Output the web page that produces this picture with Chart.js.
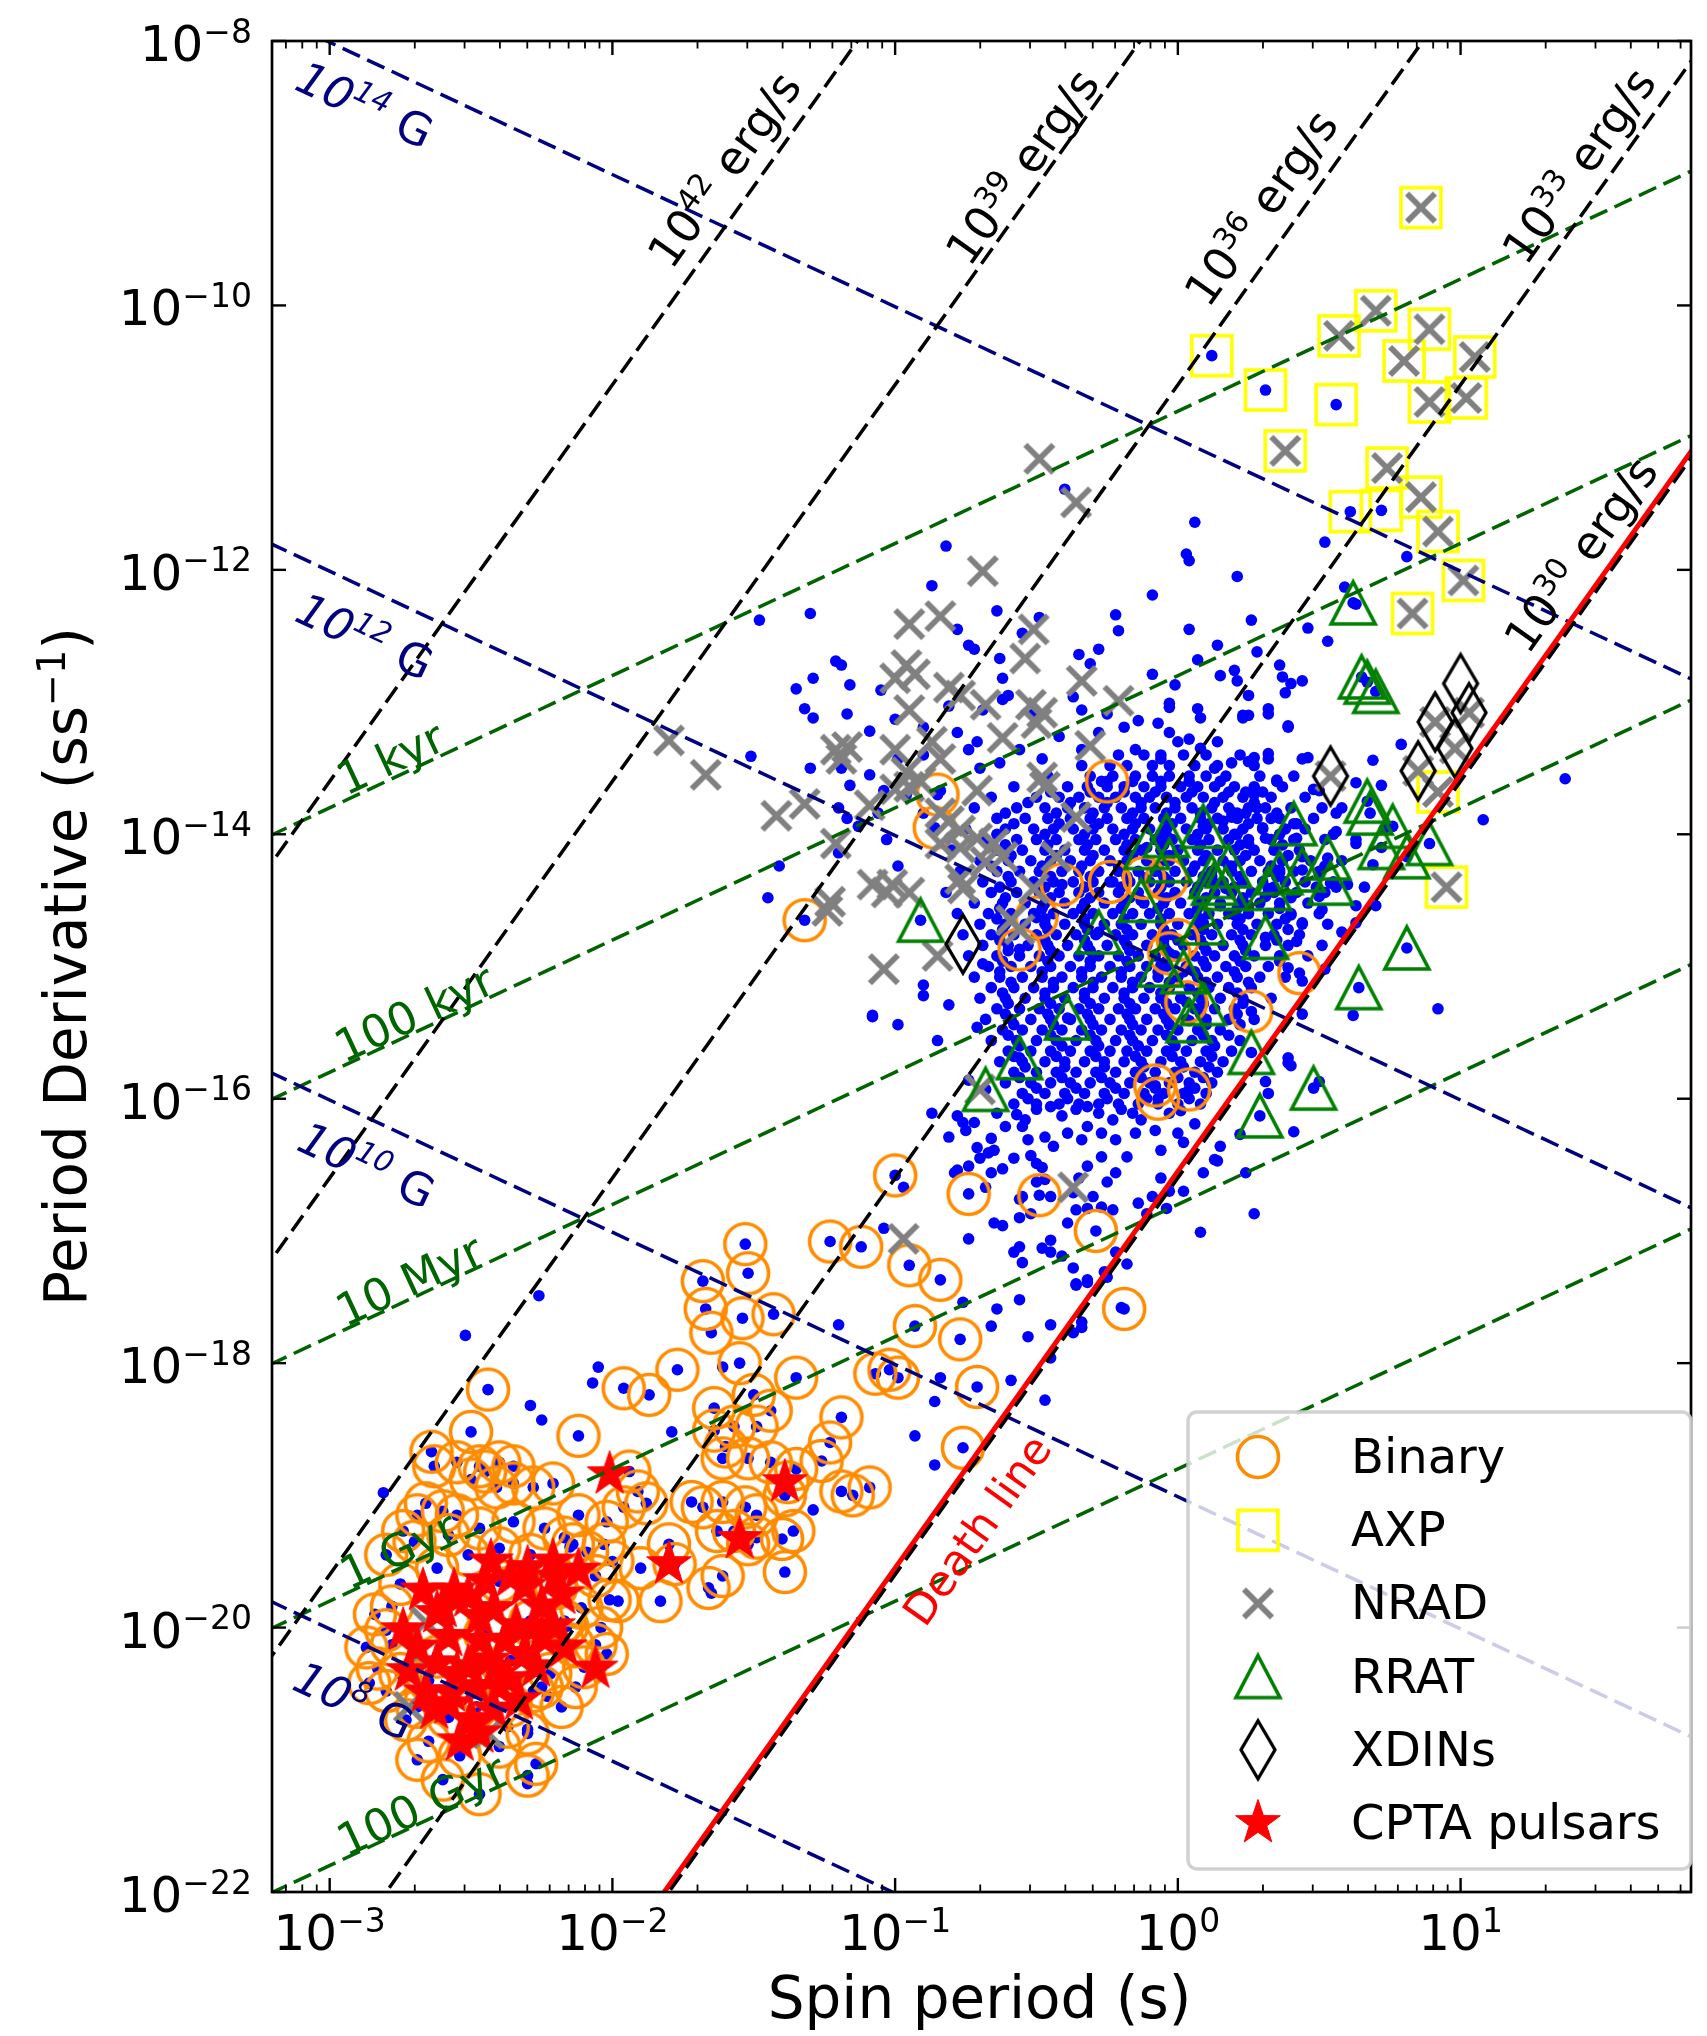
<!DOCTYPE html>
<html>
<head>
<meta charset="utf-8">
<script src="https://cdn.jsdelivr.net/npm/chart.js@4.4.1/dist/chart.umd.min.js"></script>
<style>
  html, body { margin: 0; padding: 0; background: #fff; overflow: hidden; }
  canvas { display: block; }
</style>
</head>
<body>
<canvas id="ppdot" width="1712" height="2036" style="width:1712px;height:2036px"></canvas>
<script>
// all values are log10(P [s]) and log10(Pdot [s/s])

const xTickExps = [-3, -2, -1, 0, 1];
const yTickExps = [-8, -10, -12, -14, -16, -18, -20, -22];

// dense normal-pulsar island, one row per Pdot band: [logPdot, [logP, ...]]
const pulsarRows = [
  [-13.40, [-0.21,-0.12,-0.06,0.02,0.10,0.22]],
  [-13.48, [-0.34,-0.24,-0.18,-0.09,-0.03,0.06,0.14,0.27]],
  [-13.56, [-0.46,-0.31,-0.23,-0.15,-0.09,-0.03,0.04,0.10,0.17,0.29,0.41]],
  [-13.64, [-0.58,-0.39,-0.32,-0.25,-0.19,-0.12,-0.06,0.01,0.07,0.13,0.20,0.27,0.37]],
  [-13.72, [-0.66,-0.50,-0.42,-0.35,-0.28,-0.22,-0.15,-0.10,-0.04,0.03,0.09,0.16,0.23,0.33,0.45]],
  [-13.80, [-0.72,-0.57,-0.47,-0.39,-0.33,-0.26,-0.20,-0.13,-0.08,-0.01,0.05,0.12,0.18,0.25,0.31,0.40]],
  [-13.88, [-0.64,-0.54,-0.46,-0.38,-0.31,-0.25,-0.18,-0.12,-0.05,0.01,0.08,0.14,0.21,0.28,0.36,0.48]],
  [-13.96, [-0.75,-0.61,-0.51,-0.44,-0.37,-0.30,-0.23,-0.16,-0.10,-0.04,0.03,0.10,0.16,0.23,0.30,0.38,0.45]],
  [-14.04, [-0.68,-0.57,-0.50,-0.43,-0.35,-0.29,-0.22,-0.15,-0.08,-0.02,0.05,0.11,0.18,0.25,0.33,0.41,0.52]],
  [-14.12, [-0.80,-0.64,-0.55,-0.47,-0.40,-0.33,-0.26,-0.19,-0.13,-0.06,0.00,0.07,0.14,0.20,0.27,0.34,0.43]],
  [-14.20, [-0.70,-0.60,-0.52,-0.45,-0.38,-0.31,-0.24,-0.18,-0.11,-0.04,0.02,0.09,0.16,0.22,0.29,0.37,0.47,0.58]],
  [-14.28, [-0.77,-0.64,-0.56,-0.49,-0.41,-0.35,-0.28,-0.21,-0.14,-0.08,-0.01,0.05,0.12,0.19,0.26,0.32,0.41,0.50]],
  [-14.36, [-0.69,-0.59,-0.51,-0.44,-0.37,-0.30,-0.23,-0.17,-0.10,-0.03,0.03,0.10,0.16,0.23,0.30,0.38,0.45,0.55]],
  [-14.44, [-0.82,-0.66,-0.57,-0.49,-0.42,-0.35,-0.28,-0.21,-0.14,-0.07,-0.01,0.06,0.13,0.19,0.26,0.34,0.42,0.52]],
  [-14.52, [-0.72,-0.62,-0.54,-0.47,-0.40,-0.33,-0.26,-0.19,-0.12,-0.05,0.01,0.08,0.15,0.22,0.29,0.36,0.46]],
  [-14.60, [-0.78,-0.67,-0.59,-0.51,-0.44,-0.37,-0.30,-0.23,-0.16,-0.10,-0.03,0.04,0.11,0.18,0.25,0.32,0.40,0.50]],
  [-14.68, [-0.70,-0.61,-0.54,-0.47,-0.40,-0.33,-0.26,-0.20,-0.13,-0.06,0.00,0.07,0.14,0.21,0.28,0.35,0.44]],
  [-14.76, [-0.76,-0.66,-0.58,-0.50,-0.43,-0.36,-0.29,-0.22,-0.16,-0.09,-0.02,0.05,0.12,0.19,0.26,0.34,0.43]],
  [-14.84, [-0.69,-0.60,-0.53,-0.46,-0.39,-0.32,-0.25,-0.18,-0.11,-0.05,0.02,0.09,0.16,0.23,0.31,0.39]],
  [-14.92, [-0.74,-0.64,-0.56,-0.49,-0.42,-0.35,-0.28,-0.21,-0.14,-0.08,-0.01,0.06,0.13,0.20,0.27,0.36,0.46]],
  [-15.00, [-0.67,-0.59,-0.52,-0.45,-0.38,-0.31,-0.24,-0.17,-0.11,-0.04,0.03,0.10,0.17,0.24,0.32]],
  [-15.08, [-0.72,-0.63,-0.55,-0.48,-0.41,-0.34,-0.27,-0.20,-0.13,-0.07,0.00,0.07,0.14,0.21,0.29,0.38]],
  [-15.16, [-0.66,-0.58,-0.51,-0.44,-0.37,-0.30,-0.23,-0.16,-0.10,-0.03,0.04,0.11,0.18,0.26]],
  [-15.24, [-0.70,-0.61,-0.54,-0.47,-0.40,-0.33,-0.26,-0.19,-0.12,-0.06,0.01,0.08,0.15,0.23,0.33]],
  [-15.32, [-0.64,-0.56,-0.49,-0.42,-0.35,-0.28,-0.21,-0.15,-0.08,-0.01,0.06,0.13,0.20]],
  [-15.40, [-0.68,-0.59,-0.52,-0.45,-0.38,-0.31,-0.24,-0.17,-0.11,-0.04,0.03,0.10,0.18,0.27]],
  [-15.48, [-0.62,-0.55,-0.48,-0.41,-0.34,-0.27,-0.20,-0.13,-0.07,0.00,0.07,0.15]],
  [-15.56, [-0.66,-0.57,-0.50,-0.43,-0.36,-0.29,-0.22,-0.16,-0.09,-0.02,0.05,0.12,0.22]],
  [-15.64, [-0.60,-0.52,-0.45,-0.38,-0.31,-0.24,-0.18,-0.11,-0.04,0.03,0.10,0.19]],
  [-15.72, [-0.63,-0.55,-0.47,-0.40,-0.33,-0.26,-0.19,-0.13,-0.06,0.01,0.08,0.16]],
  [-15.80, [-0.58,-0.50,-0.43,-0.36,-0.29,-0.22,-0.15,-0.08,-0.01,0.06,0.14]],
  [-15.88, [-0.61,-0.52,-0.45,-0.38,-0.31,-0.24,-0.17,-0.10,-0.03,0.04,0.12]],
  [-15.96, [-0.55,-0.47,-0.40,-0.33,-0.26,-0.19,-0.12,-0.05,0.02,0.10]],
  [-16.04, [-0.58,-0.50,-0.42,-0.35,-0.28,-0.21,-0.14,-0.07,0.00,0.08]]
];

// the thickest part of the island, read between the rows above
const pulsarRowsCore = [
  [-13.60, [-0.27,-0.16,-0.06,0.04,0.15]],
  [-13.68, [-0.45,-0.31,-0.19,-0.08,0.05,0.18,0.30]],
  [-13.76, [-0.53,-0.38,-0.25,-0.13,-0.01,0.13,0.27]],
  [-13.84, [-0.61,-0.43,-0.30,-0.16,-0.04,0.08,0.21,0.35]],
  [-13.92, [-0.58,-0.42,-0.28,-0.15,-0.02,0.11,0.25,0.42]],
  [-14.00, [-0.64,-0.47,-0.33,-0.19,-0.06,0.07,0.21,0.36]],
  [-14.08, [-0.61,-0.46,-0.32,-0.18,-0.05,0.08,0.22,0.37]],
  [-14.16, [-0.59,-0.43,-0.30,-0.16,-0.03,0.10,0.24,0.39]],
  [-14.24, [-0.66,-0.48,-0.34,-0.21,-0.07,0.06,0.19,0.33,0.52]],
  [-14.32, [-0.60,-0.45,-0.31,-0.18,-0.05,0.09,0.22,0.35]],
  [-14.40, [-0.63,-0.47,-0.33,-0.20,-0.06,0.07,0.20,0.34,0.49]],
  [-14.48, [-0.61,-0.45,-0.31,-0.17,-0.04,0.10,0.23,0.40]],
  [-14.56, [-0.63,-0.48,-0.34,-0.20,-0.07,0.07,0.21,0.36]],
  [-14.64, [-0.64,-0.47,-0.33,-0.19,-0.06,0.08,0.22,0.38]],
  [-14.72, [-0.62,-0.46,-0.32,-0.18,-0.05,0.09,0.23,0.39]],
  [-14.80, [-0.63,-0.47,-0.33,-0.19,-0.05,0.08,0.22,0.35]],
  [-14.88, [-0.60,-0.45,-0.31,-0.17,-0.04,0.10,0.24]],
  [-14.96, [-0.62,-0.46,-0.31,-0.18,-0.04,0.09,0.22,0.36]],
  [-15.04, [-0.63,-0.48,-0.34,-0.20,-0.07,0.06,0.20]],
  [-15.12, [-0.59,-0.44,-0.30,-0.16,-0.03,0.10,0.25]],
  [-15.20, [-0.62,-0.47,-0.33,-0.19,-0.06,0.07,0.21]],
  [-15.28, [-0.60,-0.45,-0.31,-0.17,-0.04,0.09,0.23]],
  [-15.36, [-0.61,-0.46,-0.32,-0.18,-0.05,0.08,0.21]],
  [-15.44, [-0.58,-0.44,-0.30,-0.16,-0.03,0.10,0.22]],
  [-15.52, [-0.60,-0.45,-0.31,-0.17,-0.04,0.09,0.18]],
  [-15.60, [-0.56,-0.41,-0.28,-0.14,-0.01,0.13]],
  [-15.68, [-0.58,-0.43,-0.29,-0.15,-0.02,0.12]],
  [-15.76, [-0.54,-0.40,-0.26,-0.12,0.02,0.11]],
  [-15.84, [-0.56,-0.41,-0.27,-0.13,0.00,0.09]],
  [-15.92, [-0.50,-0.36,-0.22,-0.08,0.06]],
  [-16.00, [-0.53,-0.39,-0.25,-0.11,0.04]]
];

// single pulsars around the island, in the tail and among the MSPs
const pulsarScatter = [
  [-0.82,-11.82],[0.06,-11.64],[0.03,-11.88],[0.04,-11.93],[0.21,-12.05],[-1.48,-12.38],[-1.30,-12.33],[-0.87,-12.12],
  [-0.64,-12.31],[-0.78,-12.45],[-0.55,-12.48],[-0.09,-12.19],[-0.22,-12.34],[-0.21,-12.46],[0.04,-12.45],[0.26,-12.38],
  [0.46,-12.44],[0.53,-12.54],[0.63,-12.26],[0.59,-12.13],[0.52,-11.79],[-1.35,-12.90],[-1.29,-12.82],[-1.21,-12.69],
  [-1.19,-12.72],[-1.16,-12.87],[-1.05,-12.91],[-0.74,-12.57],[-0.72,-12.60],[-0.63,-12.67],[-0.62,-12.82],[-0.60,-12.95],
  [-0.49,-12.36],[-0.35,-12.64],[-0.31,-12.71],[-0.28,-12.60],[-0.09,-12.79],[-0.01,-12.87],[-0.03,-13.01],[0.07,-12.68],
  [0.14,-12.57],[0.15,-12.80],[0.20,-12.76],[0.21,-12.84],[0.25,-12.95],[0.28,-12.62],[0.36,-12.72],[0.37,-12.81],
  [0.40,-12.86],[0.38,-12.93],[0.44,-12.84],[0.32,-13.05],[0.39,-13.18],[0.23,-13.12],[0.25,-13.10],[0.07,-13.05],
  [-1.32,-13.05],[-1.29,-13.12],[-1.17,-13.09],[-1.51,-13.41],[-1.30,-13.50],[-1.19,-13.50],[-1.09,-13.22],[-1.00,-13.13],
  [-0.90,-13.19],[-0.81,-13.03],[-0.69,-13.06],[-0.62,-12.98],[-0.51,-13.09],[-0.37,-12.96],[-0.34,-13.06],[-0.25,-13.09],
  [-0.19,-13.19],[-0.14,-13.14],[-0.07,-13.16],[-0.03,-13.23],[0.00,-13.30],[0.04,-13.28],[0.08,-13.35],[0.14,-13.30],
  [0.19,-13.46],[0.25,-13.45],[0.32,-13.43],[0.35,-13.60],[0.27,-13.70],[0.24,-13.84],[0.19,-13.87],[0.30,-13.95],
  [0.81,-11.90],[-0.40,-11.39],
  [-0.03,-13.04],[0.08,-13.12],[0.23,-13.10],[0.32,-13.09],[0.39,-13.19],[0.46,-13.42],[0.56,-13.98],[0.58,-13.80],
  [0.63,-14.07],[0.69,-13.44],[0.72,-13.63],[0.79,-13.32],[0.63,-13.61],[1.37,-13.58],[1.08,-13.89],[0.27,-13.42],
  [0.32,-13.39],[0.35,-13.59],[0.24,-13.68],[0.19,-13.83],[0.16,-13.90],[0.28,-13.80],[0.33,-13.88],[0.20,-14.00],
  [0.25,-14.07],[0.31,-14.03],[0.42,-14.03],[0.48,-13.66],[0.51,-13.80],[0.44,-14.17],[0.50,-14.30],[0.55,-14.00],
  [0.69,-14.23],[0.73,-13.96],[0.66,-14.40],[0.36,-14.27],[0.31,-14.47],[0.25,-14.54],[0.20,-14.61],[0.15,-14.54],
  [0.40,-14.61],[0.44,-14.67],[0.50,-14.47],[0.56,-14.40],[0.63,-14.54],[0.70,-14.54],[0.51,-14.57],[0.42,-14.81],
  [0.39,-15.01],[0.44,-15.11],[0.51,-14.84],[0.58,-14.74],[0.63,-14.67],[0.39,-15.69],[0.40,-15.75],[0.41,-16.25],
  [0.31,-15.87],[0.50,-15.87],[0.27,-16.87],[0.08,-17.01],[-0.18,-17.25],[-0.20,-17.58],[0.92,-15.32],[0.62,-15.37],
  [0.24,-16.56],[0.15,-16.36],[0.09,-16.56],[0.02,-16.70],[-0.04,-16.83],[-0.11,-16.87],[0.13,-16.46],[0.02,-16.33],
  [0.06,-16.19],
  [-1.41,-14.24],[-1.45,-14.48],[-1.08,-15.37],[-0.99,-15.44],[-0.90,-15.14],[-0.90,-15.22],[-0.81,-15.29],[-0.85,-15.56],
  [-0.71,-15.46],[-0.69,-14.98],[-0.99,-14.24],[-1.03,-14.04],[-1.13,-13.94],[-1.06,-13.84],[-1.16,-13.63],[-1.09,-13.55],
  [-1.04,-13.67],[-0.99,-13.43],[-0.90,-13.40],[-0.96,-13.70],[-0.90,-13.84],[-0.84,-13.67],[-0.74,-13.36],[-0.70,-13.50],
  [-0.78,-13.23],[-0.71,-13.30],[-0.63,-13.46],[-0.56,-13.36],[-0.48,-13.43],[-0.42,-13.26],[-0.34,-13.36],[-0.28,-13.23],
  [-0.15,-13.36],[-0.06,-13.43],[0.13,-13.50],[0.44,-13.43],[0.50,-13.67],[0.56,-13.84],[0.63,-14.04],[0.60,-14.38],
  [0.53,-14.68],[0.52,-15.02],[0.44,-15.36],[0.39,-15.73],[0.32,-15.96],[0.22,-16.27],[0.14,-16.47],[-0.74,-15.86],
  [-0.78,-16.13],[-0.71,-16.37],[-0.78,-16.54],[-0.68,-16.67],[-1.20,-13.80],[-1.17,-13.88],[-1.20,-14.14],
  [-0.87,-16.11],[-0.81,-16.29],[-0.76,-16.18],[-0.72,-16.18],[-0.75,-16.24],[-0.79,-16.56],[-0.74,-16.51],[-0.70,-16.45],
  [-0.67,-16.41],[-0.65,-16.39],[-0.66,-16.56],[-0.62,-16.53],[-0.58,-16.45],[-0.66,-16.30],[-0.61,-16.21],[-0.64,-16.11],
  [-0.57,-16.12],[-0.55,-16.21],[-0.53,-16.31],[-0.52,-16.43],[-0.50,-16.49],[-0.48,-16.52],[-0.50,-16.63],[-0.47,-16.61],
  [-0.45,-16.74],[-0.56,-16.76],[-0.55,-16.74],[-0.52,-16.87],[-0.56,-16.90],[-0.65,-16.94],[-0.62,-16.96],[-0.56,-17.12],
  [-0.58,-17.16],[-0.55,-17.24],[-0.45,-17.07],[-0.45,-17.16],[-0.48,-17.13],[-0.41,-17.19],[-0.37,-17.28],[-0.36,-17.40],
  [-0.32,-17.37],[-0.39,-16.94],[-0.36,-16.84],[-0.32,-16.83],[-0.27,-16.82],[-0.23,-16.84],[-0.30,-16.74],[-0.25,-16.63],
  [-0.22,-16.56],[-0.37,-16.71],[-0.35,-16.60],[-0.32,-16.51],[-0.27,-16.44],[-0.18,-16.44],[-0.15,-16.26],[-0.13,-16.16],
  [-0.08,-16.24],[-0.06,-16.39],[-0.03,-16.11],[0.01,-16.09],[0.00,-16.26],[-0.14,-16.79],[-0.09,-16.74],[-0.06,-16.60],
  [-0.03,-16.70],[-0.22,-17.16],[-0.25,-17.35],[-0.32,-17.39],[-0.34,-17.69],[-0.54,-16.16],[-0.50,-16.08],[-0.45,-16.06],
  [-0.41,-16.13],[-0.36,-16.08],[-0.32,-16.06],[-0.28,-16.11],[-0.23,-16.16],[-0.20,-16.08],[-0.16,-16.11],[-0.32,-16.21],
  [-0.27,-16.26],[-0.22,-16.31],[-0.34,-16.31],[-0.39,-16.26],[-0.44,-16.36],[-0.47,-16.29],
  [-0.97,-16.67],[-0.76,-17.54],[-0.74,-17.06],[-0.64,-17.59],[-0.56,-17.52],[-0.66,-17.72],[-0.53,-17.80],[-0.45,-17.71],
  [-0.59,-18.13],[-0.47,-18.28],[-0.37,-17.77],[-0.34,-17.73],[-0.45,-17.96],[-0.36,-17.41],[-0.26,-17.31],[-0.84,-18.11],
  [-2.52,-17.79],[-2.05,-18.03],[-2.07,-18.15],[-2.29,-18.32],[-2.25,-18.43],[-1.79,-18.52],[-2.81,-18.98],[-0.93,-18.55],
  [-0.86,-18.77],[-1.29,-19.11],[-0.86,-18.29],[-1.20,-17.71],[-1.65,-19.74],[-2.15,-19.39],[-2.23,-20.52],[-2.30,-20.77],
  [-2.30,-21.18],[-1.08,-15.38],[-2.26,-17.49],[-1.04,-16.98],[-1.61,-18.03]
];

const binaries = [
  [-0.25,-13.60],[-0.85,-13.70],[-0.86,-13.95],[-1.32,-14.65],[-0.41,-14.38],[-0.24,-14.36],[-0.12,-14.33],[-0.04,-14.34],
  [-0.50,-14.63],[-0.56,-14.87],[0.00,-14.80],[-0.03,-14.90],[0.03,-15.27],[0.26,-15.34],[0.43,-15.05],[-0.08,-15.90],
  [-0.07,-16.00],[0.04,-15.93],[-1.00,-16.58],[-0.74,-16.72],[-0.49,-16.73],[-0.29,-17.00],[-0.19,-17.59],
  [-1.23,-17.08],[-1.12,-17.12],[-0.95,-17.26],[-0.84,-17.37],[-0.93,-17.72],[-0.77,-17.82],[-0.71,-18.18],[-0.76,-18.64],
  [-1.53,-17.10],[-1.52,-17.32],[-1.68,-17.38],[-1.67,-17.59],[-1.65,-17.77],[-1.54,-17.66],[-1.43,-17.63],[-1.55,-18.00],
  [-1.35,-18.11],[-1.07,-18.08],[-1.02,-18.05],[-0.99,-18.11],[-1.19,-18.41],[-1.23,-18.60],[-1.26,-18.74],[-1.19,-18.97],
  [-1.15,-19.00],[-1.09,-18.94],[-1.64,-18.34],[-1.50,-18.24],[-1.44,-18.36],[-1.64,-18.51],[-1.60,-18.63],[-1.57,-18.48],
  [-1.49,-18.48],[-1.61,-18.72],[-1.52,-18.72],[-1.44,-18.75],[-1.35,-18.80],[-1.38,-18.90],[-1.72,-19.05],[-1.68,-19.09],
  [-1.61,-19.05],[-1.53,-19.09],[-1.49,-19.15],[-1.39,-19.00],[-1.36,-19.27],[-1.40,-19.33],[-1.63,-19.27],[-1.57,-19.27],
  [-1.49,-19.32],[-1.66,-19.70],[-1.61,-19.61],[-1.52,-19.37],[-1.39,-19.58],
  [-2.44,-18.20],[-2.50,-18.52],[-2.64,-18.67],[-2.12,-18.55],[-1.96,-18.19],[-1.87,-18.24],[-1.77,-18.05],[-1.94,-18.82],
  [-1.91,-18.97],[-1.96,-19.09],[-1.88,-19.06],[-1.83,-19.80],[-1.80,-19.37],[-1.78,-19.52],[-1.90,-19.55],[-2.00,-19.50],
  [-2.03,-19.37],[-2.06,-19.61],[-2.01,-19.79],[-2.17,-19.32],[-2.14,-19.37],[-2.09,-19.43],
  [-2.21,-18.91],[-2.28,-18.94],[-2.35,-18.91],[-2.41,-18.94],[-2.45,-18.82],[-2.50,-18.88],[-2.40,-18.75],[-2.35,-18.78],
  [-2.47,-18.78],[-2.55,-18.75],[-2.63,-18.78],[-2.66,-19.06],[-2.69,-19.15],[-2.74,-19.27],[-2.60,-19.12],[-2.55,-19.15],
  [-2.75,-19.67],[-2.78,-19.84],[-2.80,-20.02],[-2.78,-20.13],[-2.83,-20.31],[-2.86,-20.42],[-2.80,-20.48],[-2.69,-21.00],
  [-2.60,-21.15],[-2.47,-21.26],[-2.30,-21.12],[-2.27,-21.03],[-2.36,-20.59],[-2.28,-20.48],[-2.14,-20.13],[-2.06,-20.13],
  [-2.16,-19.99],[-2.25,-20.45],[-2.54,-20.97],[-2.65,-20.86],
  [-2.62,-19.55],[-2.51,-19.45],[-2.40,-19.40],[-2.29,-19.45],[-2.20,-19.70],[-2.11,-19.85],[-2.04,-20.00],[-2.58,-19.95],
  [-2.45,-20.05],[-2.36,-20.25],[-2.22,-20.35],[-2.13,-20.45],[-2.48,-20.60],[-2.37,-20.75],[-2.58,-20.68],[-2.69,-20.60],
  [-2.73,-20.70],[-2.62,-20.22],[-2.51,-20.45],[-2.40,-19.65],[-2.29,-19.95],[-2.17,-19.95],
  [-2.70,-19.35],[-2.58,-19.30],[-2.47,-19.25],[-2.35,-19.20],[-2.24,-19.25],[-2.12,-19.15],[-2.02,-19.20],[-2.80,-19.45],
  [-2.84,-19.90],[-2.87,-20.15],[-2.75,-20.35],[-2.65,-20.40],[-2.40,-20.90],[-2.30,-20.80],[-2.18,-20.60],[-2.10,-20.30],
  [-1.98,-19.80],[-2.02,-20.20]
];

const axpSources = [
  [0.86,-9.26],[0.12,-10.38],[0.31,-10.64],[0.56,-10.75],[0.38,-11.10],[0.57,-10.23],[0.70,-10.04],
  [0.89,-10.18],[0.80,-10.42],[1.05,-10.39],[0.89,-10.73],[1.02,-10.70],[0.74,-11.23],[0.61,-11.56],
  [0.72,-11.55],[0.86,-11.45],[0.92,-11.71],[1.01,-12.08],[0.83,-12.33],[0.92,-13.68],[0.95,-14.40]
];
// the AXPs that also carry a radio pulsar dot
const axpRadio = [[0.12,-10.38],[0.31,-10.64],[0.56,-10.75],[0.61,-11.56],[0.72,-11.55]];

const nradSources = [
  [-0.49,-11.16],[-0.36,-11.49],[-0.69,-12.01],[-0.95,-12.41],[-0.84,-12.35],[-0.51,-12.45],[-0.54,-12.67],[-0.96,-12.72],
  [-0.93,-12.79],[-1.00,-12.82],[-0.81,-12.89],[-0.77,-12.95],[-0.68,-13.02],[-0.95,-13.06],[-0.52,-13.02],[-0.48,-13.08],
  [-0.50,-13.16],[-0.34,-12.84],[-0.21,-12.99],[-1.17,-13.34],[-1.21,-13.36],[-1.19,-13.43],[-1.00,-13.36],[-0.87,-13.30],
  [-0.84,-13.43],[-0.62,-13.27],[-0.31,-13.33],[-1.67,-13.55],[-1.80,-13.29],[-0.96,-13.53],[-0.95,-13.64],[-1.00,-13.66],
  [-0.91,-13.60],[-0.71,-13.67],[-0.48,-13.57],[-0.47,-13.64],[-1.32,-13.77],[-1.42,-13.86],[-1.09,-13.78],[-0.84,-13.84],
  [-0.81,-13.90],[-0.36,-13.87],[-1.21,-14.07],[-0.77,-13.97],[-0.71,-14.03],[-0.77,-14.10],[-0.65,-14.07],[-0.43,-14.17],
  [-0.68,-14.21],[-0.62,-14.17],[-0.84,-14.07],[-1.08,-14.38],[-1.03,-14.44],[-1.01,-14.38],[-0.95,-14.44],[-0.77,-14.34],
  [-0.76,-14.41],[-1.23,-14.51],[-1.24,-14.58],[-0.51,-14.41],[-0.56,-14.72],[-0.59,-14.65],[-0.85,-14.92],[-1.04,-15.02],
  [-0.70,-15.93],[-0.37,-16.67],[-0.97,-17.06],
  [0.54,-13.56],[0.85,-13.52],[0.91,-13.15],[0.98,-13.35],[1.03,-13.08],
  [0.86,-9.26],[0.38,-11.10],[0.57,-10.23],[0.70,-10.04],[0.89,-10.18],[0.80,-10.42],[1.05,-10.39],[0.89,-10.73],
  [1.02,-10.70],[0.74,-11.23],[0.86,-11.45],[0.92,-11.71],[1.01,-12.08],[0.83,-12.33],[0.92,-13.68],[0.95,-14.40],
  [-2.66,-19.96],[-2.69,-20.21],[-2.72,-20.60],[-2.44,-20.80]
];

const rratSources = [
  [0.62,-12.25],[0.65,-12.81],[0.67,-12.85],[0.70,-12.92],[0.67,-13.75],[0.68,-13.84],[0.76,-13.94],[0.72,-14.10],
  [0.81,-14.17],[0.89,-14.07],[0.81,-14.86],[0.64,-15.16],[0.48,-15.92],[0.29,-16.13],[0.26,-15.65],[0.31,-14.78],
  [0.41,-13.92],[0.53,-14.18],[0.54,-14.37],[0.44,-14.27],[0.36,-14.29],[0.32,-14.41],[0.09,-13.94],[-0.04,-14.01],
  [-0.11,-14.10],[0.12,-14.32],[0.13,-14.37],[-0.03,-14.20],[-0.13,-14.50],[0.09,-14.67],[0.02,-15.04],[0.04,-15.41],
  [0.09,-15.28],[-0.28,-14.74],[-0.06,-14.99],[-0.39,-15.39],[-0.56,-15.69],[-0.68,-15.93],[-0.91,-14.65],[0.18,-14.24],
  [0.17,-14.41]
];

const xdinSources = [[0.54,-13.56],[0.85,-13.52],[0.91,-13.15],[0.98,-13.35],[1.03,-13.08],[1.00,-12.86],[-0.76,-14.83]];

const cptaPulsars = [
  [-2.67,-19.72],[-2.43,-19.50],[-2.21,-19.50],[-2.12,-19.57],[-2.74,-20.02],[-2.72,-20.33],[-2.51,-19.77],[-2.42,-19.86],
  [-2.31,-19.69],[-2.25,-19.84],[-2.21,-19.99],[-2.34,-19.99],[-2.47,-20.10],[-2.58,-20.07],[-2.62,-20.27],[-2.51,-20.30],
  [-2.41,-20.30],[-2.31,-20.20],[-2.25,-20.07],[-2.66,-20.49],[-2.57,-20.49],[-2.48,-20.45],[-2.37,-20.39],[-2.50,-20.70],
  [-2.42,-20.62],[-2.54,-20.86],[-2.63,-20.62],[-2.36,-19.62],[-2.56,-19.72],[-2.62,-19.89],[-2.27,-20.30],
  [-2.45,-19.65],[-2.30,-19.55],[-2.18,-19.75],[-2.60,-19.85],[-2.38,-20.10],[-2.28,-20.00],[-2.44,-20.25],[-2.55,-20.35],
  [-2.33,-20.55],[-2.58,-20.58],[-2.69,-20.15],[-2.47,-19.92],[-2.17,-20.15],[-2.20,-19.62],[-2.40,-20.45],[-2.47,-20.80],
  [-2.01,-18.84],[-1.39,-18.90],[-1.55,-19.33],[-1.80,-19.52],[-2.06,-20.31]
];

// reference lines, two end points each
const fieldLines = [
  [[-3.3,-7.71],[1.9,-12.91]],
  [[-3.3,-11.71],[1.9,-16.91]],
  [[-3.3,-15.71],[1.9,-20.91]],
  [[-3.3,-19.71],[-0.8,-22.21]]
];
const ageLines = [
  [[-3.3,-14.10],[1.9,-8.90]],
  [[-3.3,-16.10],[1.9,-10.90]],
  [[-3.3,-18.10],[1.9,-12.90]],
  [[-3.3,-20.10],[1.9,-14.90]],
  [[-3.3,-22.10],[1.9,-16.90]]
];
const edotLines = [
  [[-3.3,-14.50],[-1.1,-7.90]],
  [[-3.3,-17.50],[-0.1,-7.90]],
  [[-3.4,-20.80],[0.9,-7.90]],
  [[-2.9,-22.30],[1.9,-7.90]],
  [[-1.85,-22.15],[2.0,-10.60]]
];
const deathLine = [[-1.85,-22.10],[2.0,-10.55]];

const fieldLabels = ['14', '12', '10', '8'];
const ageLabels = ['1 kyr', '100 kyr', '10 Myr', '1 Gyr', '100 Gyr'];
const edotLabels = ['42', '39', '36', '33', '30'];
const legendLabels = ['Binary', 'AXP', 'NRAD', 'RRAT', 'XDINs', 'CPTA pulsars'];

// where each line label sits (log P, log Pdot of its centre)
const fieldLabelAt = [[-2.875,-8.48],[-2.875,-12.50],[-2.868,-16.50],[-2.914,-20.55]];
const ageLabelAt = [[-2.786,-13.42],[-2.702,-15.35],[-2.72,-17.37],[-2.758,-19.41],[-2.677,-21.34]];
const edotLabelAt = [[-1.606,-8.97],[-0.552,-8.95],[0.293,-9.26],[1.417,-8.94],[1.424,-11.88]];
const deathLabelAt = [-0.712,-19.26];

const FONT = '"DejaVu Sans", "Liberation Sans", sans-serif';
const SUP = 0.66;

const toXY = p => ({ x: Math.pow(10, p[0]), y: Math.pow(10, p[1]) });

function marker(w, h, paint) {
  const c = document.createElement('canvas');
  c.width = w;
  c.height = h;
  const g = c.getContext('2d');
  g.translate(w / 2, h / 2);
  paint(g);
  return c;
}

const circleMark = marker(52, 52, g => {
  g.lineWidth = 3.6; g.strokeStyle = '#ff8c00';
  g.beginPath(); g.arc(0, 0, 20.5, 0, 2 * Math.PI); g.stroke();
});
const squareMark = marker(50, 50, g => {
  g.lineWidth = 3.6; g.strokeStyle = '#ffff00';
  g.strokeRect(-20, -20, 40, 40);
});
const crossMark = marker(38, 38, g => {
  g.lineWidth = 5.8; g.strokeStyle = '#808080';
  g.beginPath();
  g.moveTo(-14, -14); g.lineTo(14, 14);
  g.moveTo(-14, 14); g.lineTo(14, -14);
  g.stroke();
});
const triangleMark = marker(56, 56, g => {
  g.lineWidth = 3.6; g.strokeStyle = '#008000'; g.lineJoin = 'miter';
  g.beginPath(); g.moveTo(0, -21); g.lineTo(22, 21); g.lineTo(-22, 21); g.closePath(); g.stroke();
});
const diamondMark = marker(44, 72, g => {
  g.lineWidth = 3.3; g.strokeStyle = '#000'; g.lineJoin = 'miter';
  g.beginPath(); g.moveTo(0, -29); g.lineTo(17, 0); g.lineTo(0, 29); g.lineTo(-17, 0); g.closePath(); g.stroke();
});
const starMark = marker(54, 54, g => {
  g.fillStyle = '#ff0000'; g.strokeStyle = '#ff0000'; g.lineWidth = 1;
  g.beginPath();
  for (let i = 0; i < 10; i++) {
    const r = i % 2 ? 9.2 : 23.5;
    const a = -Math.PI / 2 + i * Math.PI / 5;
    g.lineTo(r * Math.cos(a), r * Math.sin(a));
  }
  g.closePath(); g.fill(); g.stroke();
});
const legendMarks = [circleMark, squareMark, crossMark, triangleMark, diamondMark, starMark];

function lineSet(ends, color, width, dash, order) {
  return {
    data: ends.map(toXY), showLine: true, borderColor: color, borderWidth: width,
    borderDash: dash, pointRadius: 0, fill: false, order, clip: 0
  };
}
function markSet(points, style, order) {
  return { data: points.map(toXY), pointStyle: style, pointRadius: 20, showLine: false, order, clip: 0 };
}

const rowPoints = rows => rows.flatMap(([lpd, ps]) => ps.map(lp => [lp, lpd]));
const bluePoints = rowPoints(pulsarRows).concat(rowPoints(pulsarRowsCore), pulsarScatter, binaries, rratSources, axpRadio);

const datasets = [
  {
    data: bluePoints.map(toXY), pointStyle: 'circle', pointRadius: 5.8, pointBorderWidth: 0,
    backgroundColor: '#0000ff', showLine: false, order: 20, clip: 0
  },
  markSet(binaries, circleMark, 19),
  markSet(axpSources, squareMark, 18),
  markSet(nradSources, crossMark, 17),
  markSet(rratSources, triangleMark, 16),
  markSet(xdinSources, diamondMark, 15),
  markSet(cptaPulsars, starMark, 14)
];
const DASH = [19, 8];
fieldLines.forEach(l => datasets.push(lineSet(l, '#000080', 3.5, DASH, 5)));
ageLines.forEach(l => datasets.push(lineSet(l, '#006400', 3.5, DASH, 5)));
datasets.push(lineSet(deathLine, '#ff0000', 5, [], 4));
edotLines.forEach(l => datasets.push(lineSet(l, '#000000', 3.5, DASH, 3)));

function partFont(p, size) {
  return (p.it ? 'italic ' : '') + (p.sup ? size * SUP : size).toFixed(1) + 'px ' + FONT;
}
function richWidth(ctx, parts, size) {
  let w = 0;
  for (const p of parts) { ctx.font = partFont(p, size); w += ctx.measureText(p.t).width; }
  return w;
}
// x, y: anchor; dy: baseline offset in the rotated frame
function drawRich(ctx, parts, x, y, o) {
  ctx.save();
  ctx.translate(x, y);
  ctx.rotate(o.angle || 0);
  const w = richWidth(ctx, parts, o.size);
  let cx = o.align === 'right' ? -w : o.align === 'center' ? -w / 2 : 0;
  ctx.fillStyle = o.color || '#000';
  ctx.textAlign = 'left';
  ctx.textBaseline = 'alphabetic';
  for (const p of parts) {
    ctx.font = partFont(p, o.size);
    ctx.fillText(p.t, cx, (o.dy || 0) - (p.sup ? o.size * 0.37 : 0));
    cx += ctx.measureText(p.t).width;
  }
  ctx.restore();
}

function px(chart, p) {
  return { x: chart.scales.x.getPixelForValue(Math.pow(10, p[0])), y: chart.scales.y.getPixelForValue(Math.pow(10, p[1])) };
}
function angleOf(chart, ends) {
  const a = px(chart, ends[0]), b = px(chart, ends[1]);
  return Math.atan2(b.y - a.y, b.x - a.x);
}

function drawLineLabels(chart) {
  const ctx = chart.ctx;
  const a = chart.chartArea;
  ctx.save();
  ctx.beginPath();
  ctx.rect(a.left, a.top, a.right - a.left, a.bottom - a.top);
  ctx.clip();
  const size = 45, dy = size * 0.36;
  fieldLabels.forEach((b, i) => {
    const c = px(chart, fieldLabelAt[i]);
    drawRich(ctx, [{ t: '10', it: true }, { t: b, sup: true, it: true }, { t: ' G' }], c.x, c.y,
      { size, dy, color: '#000080', align: 'center', angle: angleOf(chart, fieldLines[i]) });
  });
  ageLabels.forEach((t, i) => {
    const c = px(chart, ageLabelAt[i]);
    drawRich(ctx, [{ t }], c.x, c.y, { size, dy, color: '#006400', align: 'center', angle: angleOf(chart, ageLines[i]) });
  });
  edotLabels.forEach((e, i) => {
    const c = px(chart, edotLabelAt[i]);
    drawRich(ctx, [{ t: '10' }, { t: e, sup: true }, { t: ' erg/s' }], c.x, c.y,
      { size: 46, dy: 46 * 0.36, color: '#000', align: 'center', angle: angleOf(chart, edotLines[i]) });
  });
  const d = px(chart, deathLabelAt);
  drawRich(ctx, [{ t: 'Death line' }], d.x, d.y, { size: 43, dy: 43 * 0.36, color: '#ff0000', align: 'center', angle: angleOf(chart, deathLine) });
  ctx.restore();
}

function seg(ctx, x1, y1, x2, y2) {
  ctx.beginPath(); ctx.moveTo(x1, y1); ctx.lineTo(x2, y2); ctx.stroke();
}

function drawAxes(chart) {
  const ctx = chart.ctx;
  const a = chart.chartArea;
  const xs = chart.scales.x, ys = chart.scales.y;
  ctx.save();
  ctx.strokeStyle = '#000';
  ctx.lineWidth = 2.4;
  for (const e of xTickExps) {
    const p = xs.getPixelForValue(Math.pow(10, e));
    seg(ctx, p, a.bottom, p, a.bottom - 14);
    seg(ctx, p, a.top, p, a.top + 14);
  }
  ctx.lineWidth = 1.8;
  for (let e = -4; e <= 1; e++) {
    for (let m = 2; m <= 9; m++) {
      const v = m * Math.pow(10, e);
      if (v < xs.min || v > xs.max) continue;
      const p = xs.getPixelForValue(v);
      seg(ctx, p, a.bottom, p, a.bottom - 7.5);
      seg(ctx, p, a.top, p, a.top + 7.5);
    }
  }
  ctx.lineWidth = 2.4;
  for (const e of yTickExps) {
    const p = ys.getPixelForValue(Math.pow(10, e));
    seg(ctx, a.left, p, a.left + 14, p);
    seg(ctx, a.right, p, a.right - 14, p);
  }
  ctx.lineWidth = 2.7;
  ctx.strokeRect(a.left, a.top, a.right - a.left, a.bottom - a.top);

  const size = 50;
  for (const e of yTickExps) {
    const p = ys.getPixelForValue(Math.pow(10, e));
    drawRich(ctx, [{ t: '10' }, { t: '\u2212' + (-e), sup: true }], a.left - 20, p, { size, dy: 20, align: 'right' });
  }
  for (const e of xTickExps) {
    const p = xs.getPixelForValue(Math.pow(10, e));
    const sup = e < 0 ? '\u2212' + (-e) : String(e);
    drawRich(ctx, [{ t: '10' }, { t: sup, sup: true }], p, a.bottom + 58, { size, align: 'center' });
  }
  drawRich(ctx, [{ t: 'Spin period (s)' }], (a.left + a.right) / 2 - 2, 2018, { size: 58, align: 'center' });
  drawRich(ctx, [{ t: 'Period Derivative (ss' }, { t: '\u22121', sup: true }, { t: ')' }], 86, (a.top + a.bottom) / 2,
    { size: 58, align: 'center', angle: -Math.PI / 2 });
  ctx.restore();
}

function drawLegend(chart) {
  const ctx = chart.ctx;
  const x0 = 1188, y0 = 1412, w = 503, h = 457, r = 9;
  ctx.save();
  ctx.beginPath();
  ctx.moveTo(x0 + r, y0);
  ctx.arcTo(x0 + w, y0, x0 + w, y0 + h, r);
  ctx.arcTo(x0 + w, y0 + h, x0, y0 + h, r);
  ctx.arcTo(x0, y0 + h, x0, y0, r);
  ctx.arcTo(x0, y0, x0 + w, y0, r);
  ctx.closePath();
  ctx.fillStyle = 'rgba(255,255,255,0.8)';
  ctx.fill();
  ctx.lineWidth = 3.5;
  ctx.strokeStyle = 'rgba(204,204,204,0.9)';
  ctx.stroke();
  legendLabels.forEach((t, i) => {
    const cy = 1457 + i * 73.2;
    const m = legendMarks[i];
    ctx.drawImage(m, 1258 - m.width / 2, cy - m.height / 2);
    ctx.fillStyle = '#000';
    ctx.font = '48px ' + FONT;
    ctx.textAlign = 'left';
    ctx.textBaseline = 'alphabetic';
    ctx.fillText(t, 1351, cy + 16);
  });
  ctx.restore();
}

const framePlugin = {
  id: 'ppdotFrame',
  beforeDraw(chart) {
    const ctx = chart.ctx;
    ctx.save();
    ctx.fillStyle = '#fff';
    ctx.fillRect(0, 0, chart.width, chart.height);
    ctx.restore();
  },
  afterDatasetsDraw(chart) { drawLineLabels(chart); },
  afterDraw(chart) { drawAxes(chart); drawLegend(chart); }
};

new Chart(document.getElementById('ppdot'), {
  type: 'scatter',
  data: { datasets },
  options: {
    responsive: false,
    animation: false,
    devicePixelRatio: 1,
    events: [],
    layout: { padding: { left: 272, top: 41, right: 2, bottom: 144 } },
    scales: {
      x: { type: 'logarithmic', min: Math.pow(10, -3.204), max: Math.pow(10, 1.815), bounds: 'data', display: false },
      y: { type: 'logarithmic', min: 1e-22, max: 1e-8, bounds: 'data', display: false }
    },
    plugins: { legend: { display: false }, tooltip: { enabled: false } }
  },
  plugins: [framePlugin]
});
</script>
</body>
</html>
